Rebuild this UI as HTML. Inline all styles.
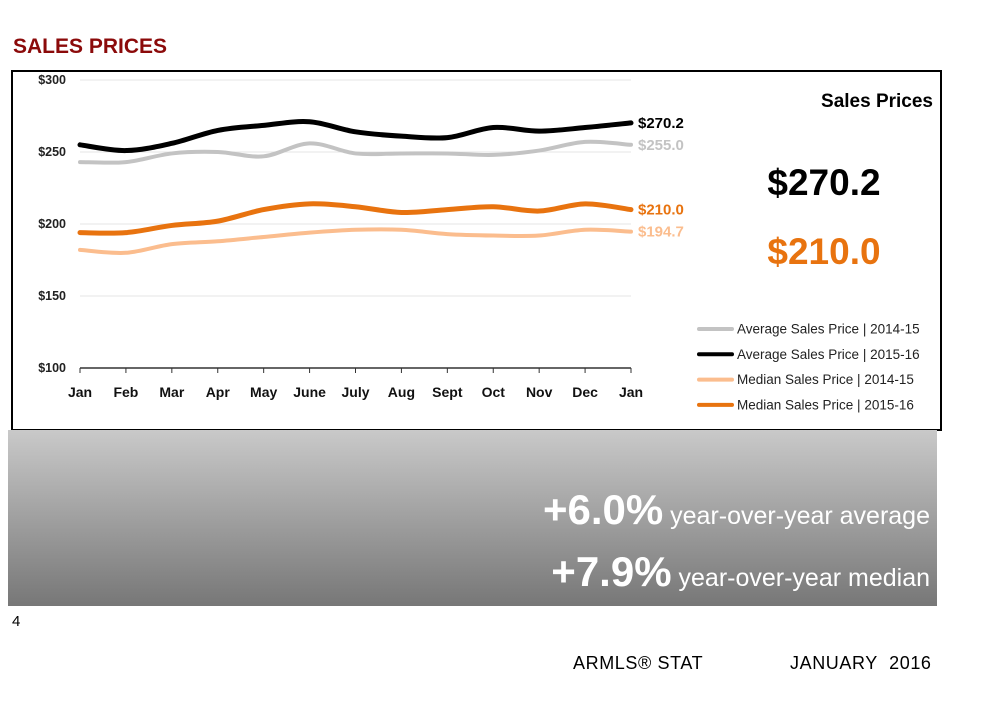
<!DOCTYPE html>
<html><head><meta charset="utf-8"><style>
body{margin:0;background:#fff;width:1001px;height:715px;overflow:hidden;position:relative;font-family:"Liberation Sans",sans-serif}
.t{position:absolute;white-space:nowrap}
</style></head><body>
<div class="t" style="left:13px;top:35px;font-size:21px;font-weight:bold;color:#8b0a0a;letter-spacing:0px">SALES PRICES</div>
<div style="position:absolute;left:11px;top:70px;width:927px;height:357px;border:2px solid #000"></div>
<svg id="chart" width="1001" height="715" style="position:absolute;left:0;top:0" font-family="Liberation Sans, sans-serif"></svg>
<div style="position:absolute;left:8px;top:430px;width:929px;height:176px;background:linear-gradient(#c9c9c9,#777)"></div>
<div class="t" style="right:71px;top:486px;color:#fff"><b style="font-size:42px">+6.0%</b><span style="font-size:25px"> year-over-year average</span></div>
<div class="t" style="right:71px;top:548px;color:#fff"><b style="font-size:42px">+7.9%</b><span style="font-size:25px"> year-over-year median</span></div>
<div class="t" style="left:12px;top:613px;font-size:15px">4</div>
<div class="t" style="left:573px;top:653px;font-size:18px;letter-spacing:0.6px">ARMLS® STAT</div>
<div class="t" style="left:790px;top:653px;font-size:18px;letter-spacing:0.6px">JANUARY&nbsp; 2016</div>
<script>
const months=["Jan","Feb","Mar","Apr","May","June","July","Aug","Sept","Oct","Nov","Dec","Jan"];
const yTicks=[100,150,200,250,300];
const avg1415=[243,243,249,250,247,256,249,249,249,248,251,257,255.0];
const avg1516=[255,251,256,265,268.5,271,264,261,260,267,264.5,267,270.2];
const med1415=[182,180,186,188,191,194,196,196,193,192,192,196,194.7];
const med1516=[194,194,199,202,210,214,212,208,210,212,209,214,210.0];
const NS="http://www.w3.org/2000/svg";
const svg=document.getElementById('chart');
const x0=80,x1=631,yTop=80,yBot=368;
const xs=i=>x0+i*(x1-x0)/(months.length-1);
const ys=v=>yBot-(v-100)/200*(yBot-yTop);
function mk(t,a,txt){const e=document.createElementNS(NS,t);for(const k in a)e.setAttribute(k,a[k]);if(txt!=null)e.textContent=txt;svg.appendChild(e);return e;}
yTicks.forEach(v=>{
 if(v>100){const g=mk('line',{x1:x0,x2:x1,y1:ys(v),y2:ys(v),stroke:'#e4e4e4','stroke-width':1});
 
 }
 const t=mk('text',{x:66,y:ys(v)+4,'text-anchor':'end','font-size':12.5,'font-weight':'bold',fill:'#222'},'$'+v);
 
 
});
const ax=mk('line',{x1:x0,x2:x1,y1:yBot,y2:yBot,stroke:'#333','stroke-width':1.5});


months.forEach((m,i)=>{
 mk('line',{x1:xs(i),x2:xs(i),y1:yBot,y2:yBot+5,stroke:'#333','stroke-width':1});
 const t=mk('text',{x:xs(i),y:397,'text-anchor':'middle','font-size':14,'font-weight':'bold',fill:'#111'},m);
 
 
});
function path(vals){const p=vals.map((v,i)=>[xs(i),ys(v)]);let d='M'+p[0][0]+','+p[0][1];
 for(let i=0;i<p.length-1;i++){const a=p[i-1]||p[i],b=p[i],c=p[i+1],e=p[i+2]||c;
 d+=` C${b[0]+(c[0]-a[0])/6},${b[1]+(c[1]-a[1])/6} ${c[0]-(e[0]-b[0])/6},${c[1]-(e[1]-b[1])/6} ${c[0]},${c[1]}`;}return d;}
const series=[[med1415,'#fbbd8e',4,'median-2014-15-line'],[med1516,'#e8730f',5,'median-2015-16-line'],[avg1415,'#c3c3c3',4,'average-2014-15-line'],[avg1516,'#000',5,'average-2015-16-line']];
series.forEach(s=>{const p=mk('path',{d:path(s[0]),fill:'none',stroke:s[1],'stroke-width':s[2],'stroke-linecap':'round'});
 
 
 const n=s[0].length-1,l=mk('text',{x:x1+7,y:ys(s[0][n])+5,'font-size':15,'font-weight':'bold',fill:s[1]},'$'+s[0][n].toFixed(1));
 
 
});
const st=mk('text',{x:933,y:107,'text-anchor':'end','font-size':19,'font-weight':'bold'},'Sales Prices');


const b1=mk('text',{x:824,y:195,'text-anchor':'middle','font-size':37,'font-weight':'bold'},'$'+avg1516[12].toFixed(1));


const b2=mk('text',{x:824,y:264,'text-anchor':'middle','font-size':37,'font-weight':'bold',fill:'#e8730f'},'$'+med1516[12].toFixed(1));


const leg=[['#c3c3c3','Average Sales Price  |  2014-15'],['#000','Average Sales Price  |  2015-16'],['#fbbd8e','Median Sales Price  |  2014-15'],['#e8730f','Median Sales Price  |  2015-16']];
leg.forEach((l,i)=>{const y=329+i*25.3;
 mk('line',{x1:699,x2:732,y1:y,y2:y,stroke:l[0],'stroke-width':4,'stroke-linecap':'round'});
 const t=mk('text',{x:737,y:y+4.5,'font-size':13.5,fill:'#222','xml:space':'preserve'},l[1]);
 
 
});
</script>
</body></html>
